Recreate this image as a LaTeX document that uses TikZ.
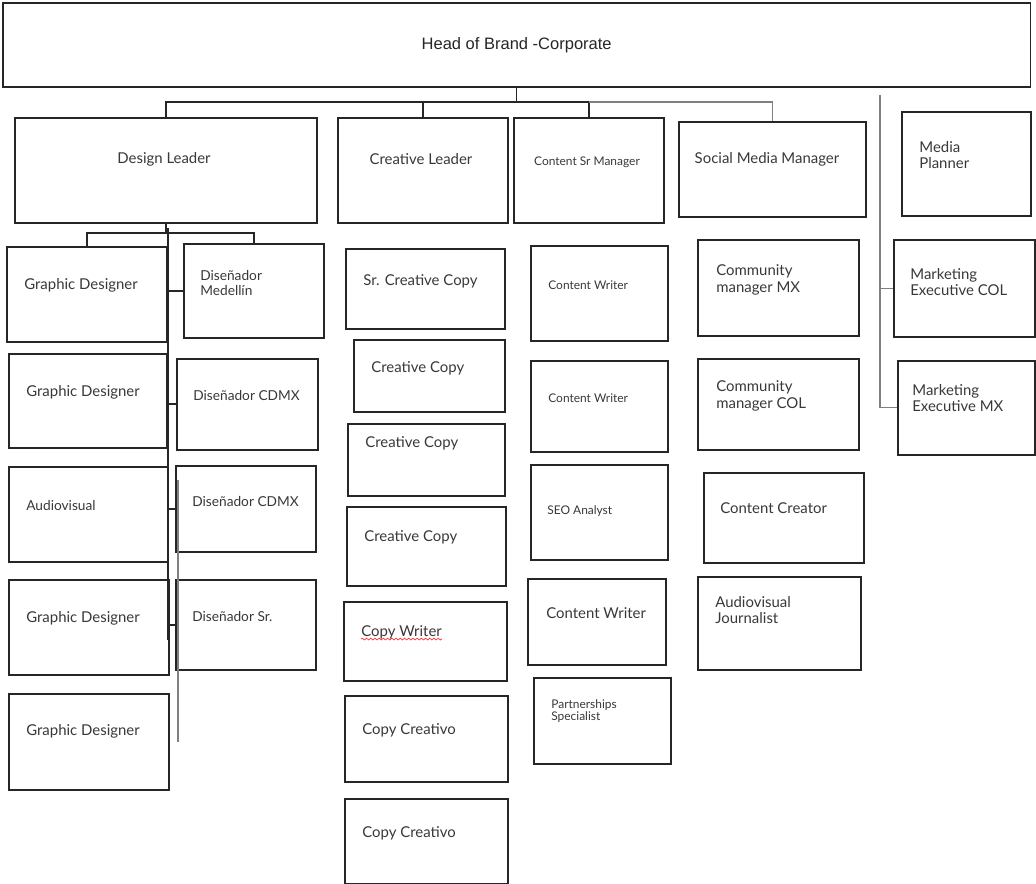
\documentclass[tikz,border=0pt]{standalone}
\usepackage{fontspec}
\setmainfont{Lato}
\newfontfamily\headfont{Liberation Sans}
\usetikzlibrary{positioning,decorations.pathmorphing}

\begin{document}
\begin{tikzpicture}[x=0.02cm,y=-0.02cm,
    box/.style={draw=black!85,line width=0.9pt,inner sep=0pt,anchor=north west},
    conn/.style={black!85,line width=0.9pt},
    faint/.style={black!50,line width=0.6pt},
    lbl/.style={anchor=west,inner sep=0pt,align=left,text=black!78,font=\fontsize{8.5}{9.2}\selectfont},
    lblm/.style={lbl,font=\fontsize{7.8}{8.2}\selectfont},
    lbls/.style={lbl,font=\fontsize{6.8}{7}\selectfont}]
        \useasboundingbox (0,0) rectangle (1036,884);
        % Head
        \node[box,minimum width=20.56cm,minimum height=1.68cm,text=black!85,
              font=\headfont\fontsize{9.4}{11}\selectfont] (head) at (2,2) {Head of Brand -Corporate};
        % Leaders
        \node[box,minimum width=6.04cm,minimum height=2.1cm] (dl) at (14,117) {};
        \node[lbl,anchor=center] (dlt) at (164,159) {Design Leader};
        \node[box,minimum width=3.4cm,minimum height=2.1cm] (cl) at (337,117) {};
        \node[lbl,anchor=center] (clt) at (421,159) {Creative Leader};
        \node[box,minimum width=3.0cm,minimum height=2.1cm] (csm) at (513,117) {};
        \node[lbls,anchor=center] (csmt) at (587,162) {Content Sr Manager};
        \node[box,minimum width=3.74cm,minimum height=1.9cm] (smm) at (678,121) {};
        \node[lbl,anchor=center] (smmt) at (767,159) {Social Media Manager};
        % Right column
        \node[box,minimum width=2.58cm,minimum height=2.08cm] (mp) at (901,111) {};
        \node[lbl] (mpt) at (919,155) {Media\\Planner};
        \node[box,minimum width=2.82cm,minimum height=1.94cm] (mecol) at (893,239) {};
        \node[lbl] (mecolt) at (910,282) {Marketing\\Executive COL};
        \node[box,minimum width=2.74cm,minimum height=1.88cm] (memx) at (897,360) {};
        \node[lbl] (memxt) at (912,398) {Marketing\\Executive MX};
        % Design team
        \node[box,minimum width=3.2cm,minimum height=1.9cm] (gd1) at (6,246) {};
        \node[lbl] (gd1t) at (24,285) {Graphic Designer};
        \node[box,minimum width=3.16cm,minimum height=1.88cm] (gd2) at (8,353) {};
        \node[lbl] (gd2t) at (26,392) {Graphic Designer};
        \node[box,minimum width=3.18cm,minimum height=1.9cm] (av) at (8,466) {};
        \node[lblm] (avt) at (26,506) {Audiovisual};
        \node[box,minimum width=3.2cm,minimum height=1.9cm] (gd3) at (8,579) {};
        \node[lbl] (gd3t) at (26,618) {Graphic Designer};
        \node[box,minimum width=3.2cm,minimum height=1.92cm] (gd4) at (8,693) {};
        \node[lbl] (gd4t) at (26,731) {Graphic Designer};
        \node[box,minimum width=2.8cm,minimum height=1.88cm] (dmed) at (183,243) {};
        \node[lblm] (dmedt) at (200,283) {Diseñador\\Medellín};
        \node[box,minimum width=2.82cm,minimum height=1.82cm] (dcdmx1) at (176,358) {};
        \node[lblm] (dcdmx1t) at (193,396) {Diseñador CDMX};
        \node[box,minimum width=2.8cm,minimum height=1.72cm] (dcdmx2) at (175,465) {};
        \node[lblm] (dcdmx2t) at (192,502) {Diseñador CDMX};
        \node[box,minimum width=2.8cm,minimum height=1.8cm] (dsr) at (175,579) {};
        \node[lblm] (dsrt) at (192,617) {Diseñador Sr.};
        % Creative team
        \node[box,minimum width=3.18cm,minimum height=1.6cm] (scc) at (345,248) {};
        \node[lbl] (scct) at (363,281) {Sr. Creative Copy};
        \node[box,minimum width=3.02cm,minimum height=1.44cm] (cc1) at (353,339) {};
        \node[lbl] (cc1t) at (371,368) {Creative Copy};
        \node[box,minimum width=3.14cm,minimum height=1.44cm] (cc2) at (347,423) {};
        \node[lbl] (cc2t) at (365,443) {Creative Copy};
        \node[box,minimum width=3.18cm,minimum height=1.58cm] (cc3) at (346,506) {};
        \node[lbl] (cc3t) at (364,537) {Creative Copy};
        \node[box,minimum width=3.26cm,minimum height=1.58cm] (cw) at (343,601) {};
        \node[lbl] (cwt) at (361,632) {Copy Writer};
        \node[box,minimum width=3.26cm,minimum height=1.72cm] (cpc1) at (344,695) {};
        \node[lbl] (cpc1t) at (362,730) {Copy Creativo};
        \node[box,minimum width=3.26cm,minimum height=1.7cm] (cpc2) at (344,798) {};
        \node[lbl] (cpc2t) at (362,833) {Copy Creativo};
        % Content team
        \node[box,minimum width=2.74cm,minimum height=1.9cm] (cw1) at (530,245) {};
        \node[lbls] (cw1t) at (548,285) {Content Writer};
        \node[box,minimum width=2.74cm,minimum height=1.82cm] (cw2) at (530,360) {};
        \node[lbls] (cw2t) at (548,398) {Content Writer};
        \node[box,minimum width=2.74cm,minimum height=1.9cm] (seo) at (530,464) {};
        \node[lbls] (seot) at (547,511) {SEO Analyst};
        \node[box,minimum width=2.76cm,minimum height=1.72cm] (cw3) at (527,578) {};
        \node[lbl] (cw3t) at (546,613) {Content Writer};
        \node[box,minimum width=2.74cm,minimum height=1.72cm] (ps) at (533,677) {};
        \node[lbls,font=\fontsize{6.8}{5.9}\selectfont] (pst) at (551,711) {Partnerships\\Specialist};
        % Social team
        \node[box,minimum width=3.22cm,minimum height=1.92cm] (cmmx) at (697,239) {};
        \node[lbl] (cmmxt) at (716,280) {Community\\manager MX};
        \node[box,minimum width=3.22cm,minimum height=1.82cm] (cmcol) at (697,358) {};
        \node[lbl] (cmcolt) at (716,396) {Community\\manager COL};
        \node[box,minimum width=3.2cm,minimum height=1.8cm] (cc) at (703,472) {};
        \node[lbl] (cct) at (720,508) {Content Creator};
        \node[box,minimum width=3.26cm,minimum height=1.86cm] (avj) at (697,576) {};
        \node[lbl] (avjt) at (715,610) {Audiovisual\\Journalist};
        % Spell check mark
        \draw[red!80,line width=0.4pt,decorate,decoration={snake,amplitude=0.5pt,segment length=2.4pt}]
            (cwt.south west) -- (cwt.south east);
        % Top bus
        \coordinate (bus) at (0,102);
        \draw[conn] (head.south) -- (head.south |- bus);
        \draw[conn] (dl.north) |- (csm.north |- bus) -- (csm.north);
        \draw[conn] (cl.north) -- (cl.north |- bus);
        \draw[faint] (csm.north |- bus) -| (smm.north);
        % Side line
        \coordinate (mtop) at (880,95);
        \draw[faint] (mtop) |- (memx.west);
        \draw[faint] (mtop |- mecol.west) -- (mecol.west);
        % Design bus
        \coordinate (dbus) at (0,233);
        \draw[conn] (dl.south) -- (dl.south |- dbus);
        \draw[conn] (gd1.north) |- (dmed.north |- dbus) -- (dmed.north);
        \coordinate (sp) at (168,228);
        \coordinate (spend) at (168,640);
        \draw[conn] (sp) -- (spend);
        \draw[conn] (sp |- dmed.west) -- (dmed.west);
        \draw[conn] (sp |- dcdmx1.west) -- (dcdmx1.west);
        \draw[conn] (sp |- dcdmx2.west) -- (dcdmx2.west);
        \draw[conn] (sp |- dsr.west) -- (dsr.west);
        \coordinate (gtop) at (178,480);
        \coordinate (gend) at (178,742);
        \draw[faint] (gtop) -- (gend);
      \end{tikzpicture}
\end{document}
